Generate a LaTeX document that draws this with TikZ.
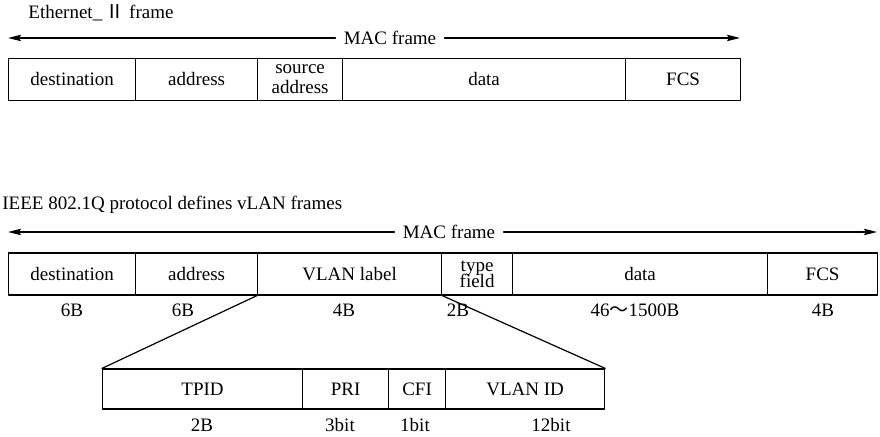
\documentclass[tikz,border=0pt]{standalone}
\usepackage{fontspec}
\setmainfont{Liberation Serif}
\newfontfamily\cjk{Noto Sans CJK SC}
\usetikzlibrary{arrows.meta}

\begin{document}
\begin{tikzpicture}[x=0.5pt,y=-0.5pt,line cap=round,line join=round,
  >={Stealth[length=6.5pt,width=3.2pt,inset=1pt]},
  every node/.style={inner sep=1pt,font=\fontsize{9.5}{10}\selectfont},
  cell/.style={draw,line width=0.6pt,inner sep=0pt,anchor=west,align=center,minimum height=21pt},
  span/.style={line width=0.6pt}]
  \useasboundingbox (0,0) rectangle (880,437);
  % Ethernet II 帧
  \node[anchor=west] (title1) at (26,13) {Ethernet\_\,{\cjk Ⅱ} frame};
  \node[inner sep=4pt] (mac1) at (390,38) {MAC frame};
  \coordinate (l1) at (8,38);
  \coordinate (r1) at (740,38);
  \draw[span,->] (mac1) -- (l1);
  \draw[span,->] (mac1) -- (r1);
  \foreach \a/\b/\n/\t in {8/135/ea/destination,135/257/eb/address,257/342/ec/{source\\address},
      342/625/ed/data,625/740/ee/FCS} {
    \node[cell,minimum width={(\b-\a)*0.5pt}] (\n) at (\a,79.5) {\t};
  }
  % 802.1Q VLAN 帧
  \node[anchor=west] (title2) at (0,205) {IEEE 802.1Q protocol defines vLAN frames};
  \node[inner sep=4pt] (mac2) at (449,232) {MAC frame};
  \coordinate (l2) at (8,232);
  \coordinate (r2) at (877,232);
  \draw[span,->] (mac2) -- (l2);
  \draw[span,->] (mac2) -- (r2);
  \foreach \a/\b/\n/\t in {8/135/va/destination,135/257/vb/address,257/441/vc/VLAN label,
      441/512/vd/{type\\[-2pt]field},512/767/ve/data,767/877/vf/FCS} {
    \node[cell,minimum width={(\b-\a)*0.5pt}] (\n) at (\a,274) {\t};
  }
  \foreach \x/\t [count=\i] in {72/6B,183/6B,344/4B,458/2B,635/{46{\cjk ～}1500B},823/4B} {
    \node (vs\i) at (\x,310) {\t};
  }
  % 标签展开
  \foreach \a/\b/\n/\t in {102/302/ta/TPID,302/388/tb/PRI,388/445/tc/CFI,445/604/td/VLAN ID} {
    \node[cell,minimum height=20pt,minimum width={(\b-\a)*0.5pt}] (\n) at (\a,389) {\t};
  }
  \foreach \x/\t [count=\i] in {202/2B,340/3bit,415/1bit,551/12bit} {
    \node (ts\i) at (\x,425) {\t};
  }
  \draw[span] (vc.south west) -- (ta.north west);
  \draw[span] (vc.south east) -- (td.north east);
\end{tikzpicture}
\end{document}
